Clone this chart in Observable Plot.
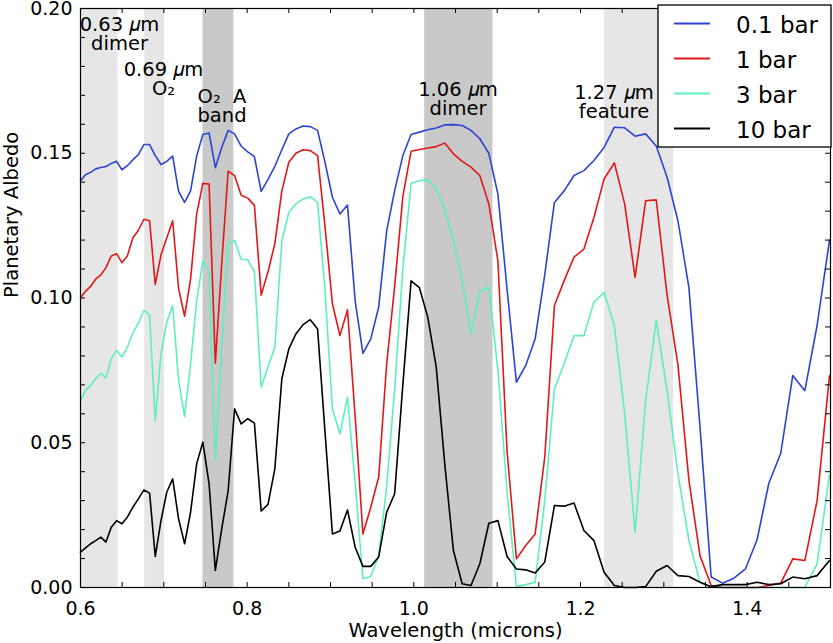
<!DOCTYPE html>
<html><head><meta charset="utf-8">
<script src="https://cdn.jsdelivr.net/npm/d3@7"></script>
<script src="https://cdn.jsdelivr.net/npm/@observablehq/plot@0.6"></script>
<style>body{margin:0;background:#fff} #chart{position:relative;width:833px;height:643px}</style>
</head><body><div id="chart"></div>
<script>
// Wavelength grid (microns)
const wavelength = [0.6000,0.6060,0.6121,0.6182,0.6244,0.6306,0.6369,0.6433,0.6497,0.6562,
0.6628,0.6694,0.6761,0.6829,0.6897,0.6966,0.7035,0.7106,0.7177,0.7249,
0.7321,0.7394,0.7468,0.7543,0.7618,0.7695,0.7772,0.7849,0.7928,0.8007,
0.8087,0.8168,0.8250,0.8332,0.8416,0.8500,0.8585,0.8671,0.8757,0.8845,
0.8933,0.9023,0.9113,0.9204,0.9296,0.9389,0.9483,0.9578,0.9674,0.9770,
0.9868,0.9967,1.0066,1.0167,1.0269,1.0371,1.0475,1.0580,1.0686,1.0792,
1.0900,1.1009,1.1119,1.1231,1.1343,1.1456,1.1571,1.1687,1.1804,1.1922,
1.2041,1.2161,1.2283,1.2406,1.2530,1.2655,1.2782,1.2909,1.3039,1.3169,
1.3301,1.3434,1.3568,1.3704,1.3841,1.3979,1.4119,1.4260,1.4403,1.4547,
1.4692,1.4839,1.4988];

const albedo01bar = [0.1405,0.1426,0.1434,0.1446,0.1451,0.1454,0.1465,0.1472,0.1443,0.1457,
0.1477,0.1495,0.1530,0.1530,0.1492,0.1461,0.1472,0.1490,0.1368,0.1330,
0.1370,0.1490,0.1565,0.1570,0.1450,0.1520,0.1579,0.1567,0.1525,0.1505,
0.1488,0.1368,0.1410,0.1455,0.1512,0.1567,0.1584,0.1594,0.1592,0.1579,
0.1470,0.1348,0.1290,0.1321,0.0990,0.0809,0.0859,0.0968,0.1232,0.1371,
0.1492,0.1565,0.1573,0.1581,0.1587,0.1598,0.1599,0.1596,0.1579,0.1550,
0.1500,0.1359,0.1030,0.0709,0.0767,0.0859,0.1080,0.1330,0.1370,0.1423,
0.1440,0.1475,0.1520,0.1590,0.1588,0.1559,0.1567,0.1525,0.1417,0.1267,
0.1036,0.0555,0.0036,0.0015,0.0032,0.0064,0.0165,0.0360,0.0464,0.0732,
0.0680,0.0905,0.1200];

const albedo1bar = [0.1001,0.1023,0.1040,0.1065,0.1080,0.1105,0.1145,0.1153,0.1122,0.1145,
0.1207,0.1234,0.1272,0.1267,0.1047,0.1149,0.1207,0.1267,0.1033,0.0937,
0.1065,0.1290,0.1396,0.1394,0.0775,0.1120,0.1438,0.1423,0.1355,0.1345,
0.1320,0.1010,0.1090,0.1188,0.1370,0.1469,0.1500,0.1512,0.1509,0.1492,
0.1250,0.0980,0.0870,0.0959,0.0590,0.0185,0.0277,0.0381,0.0773,0.1040,
0.1350,0.1507,0.1513,0.1518,0.1523,0.1535,0.1498,0.1472,0.1452,0.1423,
0.1325,0.1128,0.0470,0.0099,0.0145,0.0185,0.0450,0.0974,0.1060,0.1141,
0.1169,0.1278,0.1411,0.1467,0.1325,0.1071,0.1336,0.1339,0.1010,0.0770,
0.0370,0.0110,0.0007,0.0000,0.0000,0.0000,0.0000,0.0007,0.0015,0.0099,
0.0093,0.0300,0.0732];

const albedo3bar = [0.0646,0.0680,0.0698,0.0721,0.0740,0.0724,0.0790,0.0819,0.0796,0.0830,
0.0879,0.0913,0.0957,0.0941,0.0575,0.0807,0.0917,0.0974,0.0715,0.0591,
0.0773,0.0990,0.1128,0.1090,0.0439,0.0830,0.1190,0.1198,0.1134,0.1132,
0.1090,0.0692,0.0761,0.0830,0.1197,0.1296,0.1325,0.1342,0.1350,0.1330,
0.1030,0.0617,0.0531,0.0657,0.0360,0.0030,0.0038,0.0111,0.0347,0.0686,
0.1100,0.1396,0.1405,0.1408,0.1376,0.1307,0.1197,0.1059,0.0876,0.1024,
0.1038,0.0750,0.0330,0.0003,0.0010,0.0018,0.0300,0.0686,0.0773,0.0870,
0.0870,0.0985,0.1020,0.0905,0.0600,0.0191,0.0646,0.0922,0.0680,0.0393,
0.0162,0.0018,0.0001,0.0000,0.0000,0.0000,0.0000,0.0000,0.0000,0.0000,
0.0000,0.0082,0.0390];

const albedo10bar = [0.0122,0.0137,0.0151,0.0162,0.0174,0.0157,0.0208,0.0231,0.0220,0.0243,
0.0277,0.0306,0.0337,0.0326,0.0107,0.0231,0.0329,0.0375,0.0237,0.0151,
0.0260,0.0427,0.0502,0.0358,0.0059,0.0203,0.0335,0.0617,0.0565,0.0583,
0.0568,0.0264,0.0287,0.0410,0.0721,0.0824,0.0876,0.0908,0.0925,0.0893,
0.0542,0.0185,0.0195,0.0268,0.0139,0.0073,0.0073,0.0105,0.0260,0.0324,
0.0700,0.1059,0.1036,0.0934,0.0761,0.0427,0.0128,0.0013,0.0007,0.0082,
0.0222,0.0231,0.0107,0.0064,0.0061,0.0050,0.0088,0.0283,0.0281,0.0292,
0.0197,0.0162,0.0053,0.0007,0.0000,0.0000,0.0003,0.0056,0.0076,0.0041,
0.0038,0.0018,0.0003,0.0010,0.0010,0.0010,0.0018,0.0010,0.0013,0.0036,
0.0030,0.0041,0.0093];

const seriesNames = ["0.1 bar", "1 bar", "3 bar", "10 bar"];
const seriesValues = [albedo01bar, albedo1bar, albedo3bar, albedo10bar];
const seriesColors = ["#2d43d2", "#e01818", "#5ef0bc", "#000000"];

// Shaded absorption bands
const bandStart = [0.600, 0.677, 0.747, 1.013, 1.229];
const bandEnd   = [0.645, 0.701, 0.784, 1.095, 1.312];
const bandShade = ["light", "light", "dark", "dark", "light"];

// Band annotations (two-line labels, placed at wavelength / albedo)
const noteText = ["0.63 𝜇m\ndimer", "0.69 𝜇m\nO₂", "O₂  A\nband", "1.06 𝜇m\ndimer", "1.27 𝜇m\nfeature"];
const noteX    = [0.6468, 0.6996, 0.7698, 1.0530, 1.2402];
const noteY    = [0.1910, 0.1755, 0.1661, 0.1687, 0.1675];

const xTickLabels = [0.6, 0.8, 1.0, 1.2, 1.4];
const xTicks = [0.6,0.65,0.7,0.75,0.8,0.85,0.9,0.95,1.0,1.05,1.1,1.15,1.2,1.25,1.3,1.35,1.4,1.45,1.5];
const yTickLabels = [0, 0.05, 0.10, 0.15, 0.20];
const yTicks = [0,0.01,0.02,0.03,0.04,0.05,0.06,0.07,0.08,0.09,0.10,0.11,0.12,0.13,0.14,0.15,0.16,0.17,0.18,0.19,0.20];

const rows = [];
seriesNames.forEach((name, k) => wavelength.forEach((w, i) => rows.push({w, v: seriesValues[k][i], series: name})));
const bands = bandStart.map((s, i) => ({x1: s, x2: bandEnd[i], shade: bandShade[i]}));
const notes = noteText.map((t, i) => ({text: t, x: noteX[i], y: noteY[i]}));

const W = 833, H = 643, ML = 80, MR = 3, MT = 8, MB = 56;
const innerW = W - ML - MR, innerH = H - MT - MB, tl = 5;

const svg = Plot.plot({
  width: W, height: H,
  marginLeft: ML, marginRight: MR, marginTop: MT, marginBottom: MB,
  x: {domain: [0.6, 1.5]},
  y: {domain: [0, 0.2]},
  color: {domain: seriesNames, range: seriesColors},
  style: {fontFamily: "DejaVu Sans", fontSize: "19px", color: "black", background: "white", overflow: "visible"},
  marks: [
    Plot.rect(bands, {x1: "x1", x2: "x2", fill: d => d.shade === "dark" ? "#c9c9c9" : "#e6e6e6"}),
    Plot.line(rows, {x: "w", y: "v", z: "series", stroke: "series", strokeWidth: 1.6}),
    Plot.frame({stroke: "black", strokeWidth: 1.2}),
    Plot.tickX(xTicks, {x: d => d, insetTop: innerH - tl, stroke: "black", strokeWidth: 1}),
    Plot.tickX(xTicks, {x: d => d, insetBottom: innerH - tl, stroke: "black", strokeWidth: 1}),
    Plot.tickY(yTicks, {y: d => d, insetRight: innerW - tl, stroke: "black", strokeWidth: 1}),
    Plot.tickY(yTicks, {y: d => d, insetLeft: innerW - tl, stroke: "black", strokeWidth: 1}),
    Plot.axisX({ticks: xTickLabels, tickFormat: d3.format(".1f"), tickSize: 0, tickPadding: 14, label: null, fontSize: 19}),
    Plot.axisY({ticks: yTickLabels, tickFormat: d3.format(".2f"), tickSize: 0, tickPadding: 8, label: null, fontSize: 19}),
    Plot.text(notes, {x: "x", y: "y", text: "text", fontSize: 19.5, fill: "black", lineAnchor: "middle", lineHeight: 0.98}),
    Plot.text(["Wavelength (microns)"], {frameAnchor: "bottom", text: d => d, dy: 43, fontSize: 19.5, lineAnchor: "middle"}),
    Plot.text(["Planetary Albedo"], {frameAnchor: "left", text: d => d, rotate: -90, dx: -69, fontSize: 19.5, lineAnchor: "middle"})
  ]
});

// Legend box (upper right)
const g = d3.select(svg).append("g").attr("text-anchor", "start");
g.append("rect").attr("x", 658).attr("y", 5).attr("width", 173).attr("height", 142)
  .attr("fill", "white").attr("stroke", "black").attr("stroke-width", 1.3);
seriesNames.forEach((name, k) => {
  const cy = 23.5 + k * 35;
  g.append("line").attr("x1", 674).attr("x2", 710).attr("y1", cy).attr("y2", cy)
    .attr("stroke", seriesColors[k]).attr("stroke-width", 1.8);
  g.append("text").attr("x", 736).attr("y", cy + 1.5).attr("dy", "0.36em")
    .attr("text-anchor", "start")
    .attr("font-size", 23).attr("font-family", "DejaVu Sans").attr("fill", "black").text(name);
});

document.getElementById("chart").appendChild(svg);
</script>
</body></html>
